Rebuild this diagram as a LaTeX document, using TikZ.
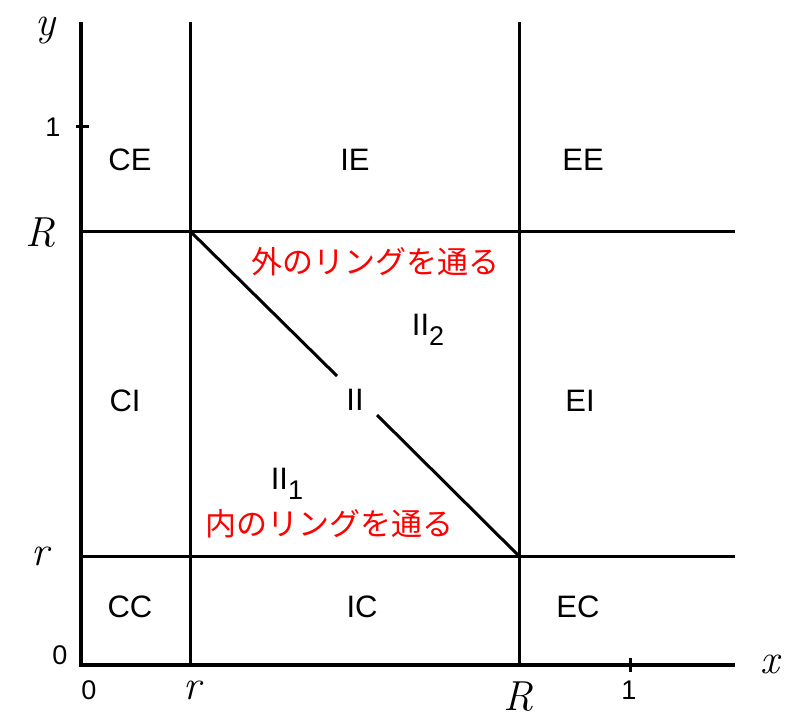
\documentclass[tikz,border=0pt]{standalone}
\usepackage{fontspec}
\setsansfont{Liberation Sans}
\newfontfamily\cjk{Noto Sans CJK JP}
\newfontfamily\axlabfont{Latin Modern Roman}
\begin{document}
\begin{tikzpicture}[x=1pt,y=-1pt,
  ax/.style={line width=3.2pt},
  ln/.style={line width=3pt},
  reg/.style={font=\fontsize{31}{33}\selectfont\sffamily, inner sep=0pt},
  num/.style={font=\fontsize{27}{29}\selectfont\sffamily, inner sep=0pt},
  mth/.style={font=\fontsize{42}{44}\selectfont\axlabfont\itshape, inner sep=0pt},
  red/.style={font=\fontsize{31}{33}\selectfont\cjk, text=red, inner sep=0pt}]
\useasboundingbox (0,0) rectangle (788,720);
% axes
\coordinate (O) at (81,665);
\coordinate (ytop) at (81,22);
\coordinate (xend) at (735,665);
\draw[ax] (ytop) -- (O) -- (xend);
% ticks
\coordinate (ty1) at (76,126); \coordinate (ty2) at (89,126);
\draw[ln] (ty1) -- (ty2);
\coordinate (tx1) at (630,658); \coordinate (tx2) at (630,672);
\draw[ln] (tx1) -- (tx2);
% grid lines
\coordinate (rtop) at (190,22); \coordinate (rbot) at (190,665);
\coordinate (Rtop) at (519,22); \coordinate (Rbot) at (519,665);
\coordinate (hRl) at (81,231); \coordinate (hRr) at (735,231);
\coordinate (hrl) at (81,556); \coordinate (hrr) at (735,556);
\draw[ln] (rtop) -- (rbot);
\draw[ln] (Rtop) -- (Rbot);
\draw[ln] (hRl) -- (hRr);
\draw[ln] (hrl) -- (hrr);
% diagonal with gap
\coordinate (d1) at (190,231); \coordinate (d2) at (337,376);
\coordinate (d3) at (377,415); \coordinate (d4) at (519,556);
\draw[ln] (d1) -- (d2);
\draw[ln] (d3) -- (d4);
% axis labels
\node[mth] (ly) at (45,31) {y};
\node[mth] (lx) at (770,664) {x};
\node[mth] (lRy) at (40,233) {R};
\node[mth] (lry) at (40,556) {r};
\node[mth] (lrx) at (192,690) {r};
\node[mth] (lRx) at (518,697) {R};
\node[num] (one_y) at (53,127) {1};
\node[num] (zero_y) at (60,655) {0};
\node[num] (zero_x) at (89,690) {0};
\node[num] (one_x) at (629,690) {1};
% regions
\node[reg] (CE) at (130,160) {CE};
\node[reg] (IE) at (355,160) {IE};
\node[reg] (EE) at (583,160) {EE};
\node[reg] (CI) at (125,401) {CI};
\node[reg] (II) at (355,400) {II};
\node[reg] (EI) at (580,401) {EI};
\node[reg] (CC) at (130,607) {CC};
\node[reg] (IC) at (362,607) {IC};
\node[reg] (EC) at (578,607) {EC};
\node[reg] (II2) at (428,330) {II\raisebox{-10pt}{\fontsize{27}{29}\selectfont 2}};
\node[reg] (II1) at (287,484) {II\raisebox{-10pt}{\fontsize{27}{29}\selectfont 1}};
% red texts
\node[red] (outer) at (375,262) {外のリングを通る};
\node[red] (inner) at (329,524) {内のリングを通る};
\end{tikzpicture}
\end{document}
